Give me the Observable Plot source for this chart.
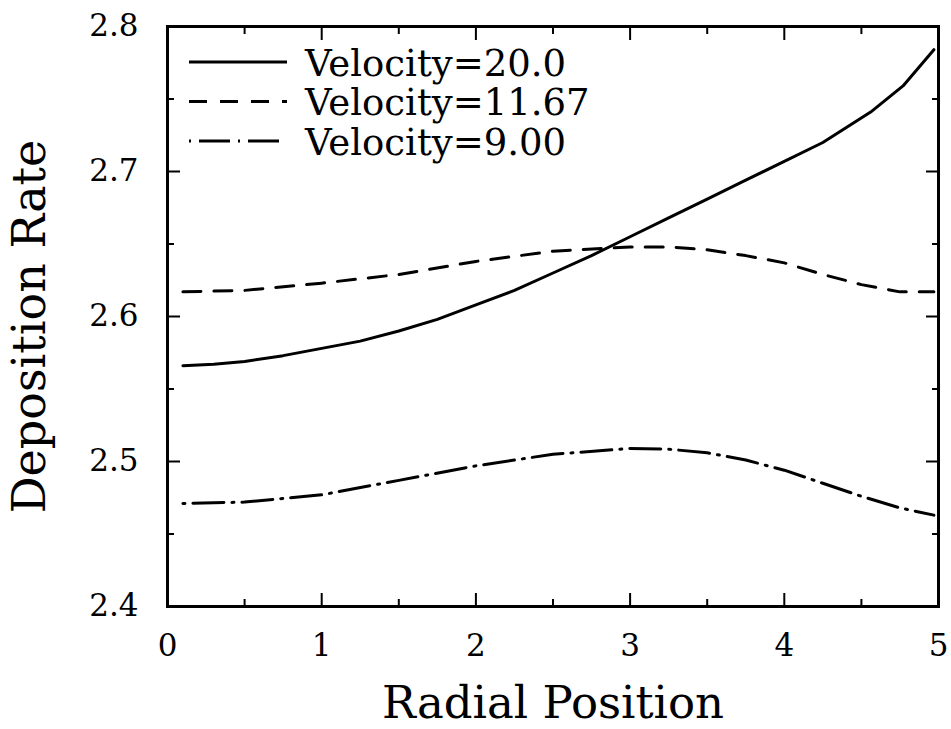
<!DOCTYPE html>
<html>
<head>
<meta charset="utf-8">
<script src="https://cdn.jsdelivr.net/npm/d3@7"></script>
<script src="https://cdn.jsdelivr.net/npm/@observablehq/plot@0.6"></script>
<style>
  html, body { margin: 0; padding: 0; background: #fff; }
  #chart { width: 951px; height: 729px; }
</style>
</head>
<body>
<div id="chart"></div>
<script>
// ---- data ----
const seriesNames = ["Velocity=20.0", "Velocity=11.67", "Velocity=9.00"];

const radial20 = [0.10, 0.30, 0.50, 0.75, 1.00, 1.25, 1.50, 1.75, 2.00, 2.25, 2.50, 2.75, 3.00, 3.25, 3.50, 3.75, 4.00, 4.25, 4.56, 4.77, 4.97];
const rate20   = [2.566, 2.567, 2.569, 2.573, 2.578, 2.583, 2.590, 2.598, 2.608, 2.618, 2.630, 2.642, 2.655, 2.668, 2.681, 2.694, 2.707, 2.720, 2.741, 2.759, 2.784];

const radial1167 = [0.10, 0.50, 1.00, 1.50, 2.00, 2.50, 3.00, 3.25, 3.50, 3.75, 4.00, 4.25, 4.50, 4.75, 4.97];
const rate1167   = [2.617, 2.618, 2.623, 2.629, 2.638, 2.645, 2.648, 2.648, 2.646, 2.642, 2.637, 2.629, 2.622, 2.617, 2.617];

const radial9 = [0.10, 0.50, 1.00, 1.50, 2.00, 2.50, 3.00, 3.25, 3.50, 3.75, 4.00, 4.25, 4.50, 4.75, 4.97];
const rate9   = [2.471, 2.472, 2.477, 2.487, 2.497, 2.505, 2.509, 2.5085, 2.506, 2.501, 2.494, 2.485, 2.476, 2.468, 2.463];

const xMajorTicks = [0, 1, 2, 3, 4, 5];
const xMinorTicks = [0.5, 1.5, 2.5, 3.5, 4.5];
const yMajorTicks = [2.4, 2.5, 2.6, 2.7, 2.8];
const yMinorTicks = [2.45, 2.55, 2.65, 2.75];

const xTitle = "Radial Position";
const yTitle = "Deposition Rate";

// ---- styles ----
const dashes = [null, "18,13", "2,8,31,8"];
const FONT = "DejaVu Serif";

// ---- table ----
const seriesX = [radial20, radial1167, radial9];
const seriesY = [rate20, rate1167, rate9];
const rows = [];
seriesNames.forEach((name, s) => {
  seriesX[s].forEach((x, i) => rows.push({series: name, radial: x, rate: seriesY[s][i]}));
});

const lineMarks = seriesNames.map((name, s) =>
  Plot.line(rows.filter(r => r.series === name), {
    x: "radial", y: "rate", stroke: "black", strokeWidth: 3,
    strokeDasharray: dashes[s], strokeLinejoin: "round"
  })
);

// legend drawn inside the frame (top-left)
function legend(index, scales, values, dimensions) {
  const g = d3.create("svg:g");
  const x0 = dimensions.marginLeft + 22, x1 = dimensions.marginLeft + 120;
  const tx = dimensions.marginLeft + 138;
  seriesNames.forEach((name, s) => {
    const cy = dimensions.marginTop + 36 + s * 39.5;
    g.append("line").attr("x1", x0).attr("x2", x1).attr("y1", cy).attr("y2", cy)
      .attr("stroke", "black").attr("stroke-width", 3)
      .attr("stroke-dasharray", dashes[s]);
    g.append("text").attr("x", tx).attr("y", cy + 13.5)
      .attr("text-anchor", "start")
      .attr("font-family", FONT).attr("font-size", 37).attr("fill", "black")
      .text(name);
  });
  return g.node();
}

const tickCommon = {label: null, strokeWidth: 2, tickFormat: () => ""};
const MAJ = 13, MIN = 7;

const chart = Plot.plot({
  width: 951,
  height: 729,
  marginLeft: 167,
  marginRight: 13,
  marginTop: 26,
  marginBottom: 123,
  style: {fontFamily: FONT, background: "white", color: "black"},
  x: {domain: [0, 5], label: null},
  y: {domain: [2.4, 2.8], label: null},
  marks: [
    // inward ticks on all four sides (outward ticks shifted back inside)
    Plot.axisX(xMajorTicks, {anchor: "bottom", tickSize: MAJ, dy: -MAJ, ...tickCommon}),
    Plot.axisX(xMinorTicks, {anchor: "bottom", tickSize: MIN, dy: -MIN, ...tickCommon}),
    Plot.axisX(xMajorTicks, {anchor: "top", tickSize: MAJ, dy: MAJ, ...tickCommon}),
    Plot.axisX(xMinorTicks, {anchor: "top", tickSize: MIN, dy: MIN, ...tickCommon}),
    Plot.axisY(yMajorTicks, {anchor: "left", tickSize: MAJ, dx: MAJ, ...tickCommon}),
    Plot.axisY(yMinorTicks, {anchor: "left", tickSize: MIN, dx: MIN, ...tickCommon}),
    Plot.axisY(yMajorTicks, {anchor: "right", tickSize: MAJ, dx: -MAJ, ...tickCommon}),
    Plot.axisY(yMinorTicks, {anchor: "right", tickSize: MIN, dx: -MIN, ...tickCommon}),
    // tick labels
    Plot.axisX(xMajorTicks, {anchor: "bottom", tickSize: 0, tickPadding: 27, fontSize: 31, label: null, tickFormat: d => String(d)}),
    Plot.axisY(yMajorTicks, {anchor: "left", tickSize: 0, tickPadding: 29, fontSize: 31, label: null, tickFormat: d3.format(".1f")}),
    // axis titles
    Plot.text([xTitle], {frameAnchor: "bottom", textAnchor: "middle", lineAnchor: "middle", dy: 97, fontSize: 45, fill: "black"}),
    Plot.text([yTitle], {frameAnchor: "left", textAnchor: "middle", lineAnchor: "middle", rotate: -90, dx: -137, dy: 10, fontSize: 46, fill: "black"}),
    ...lineMarks,
    Plot.frame({stroke: "black", strokeWidth: 3}),
    legend
  ]
});

document.getElementById("chart").appendChild(chart);
</script>
</body>
</html>
